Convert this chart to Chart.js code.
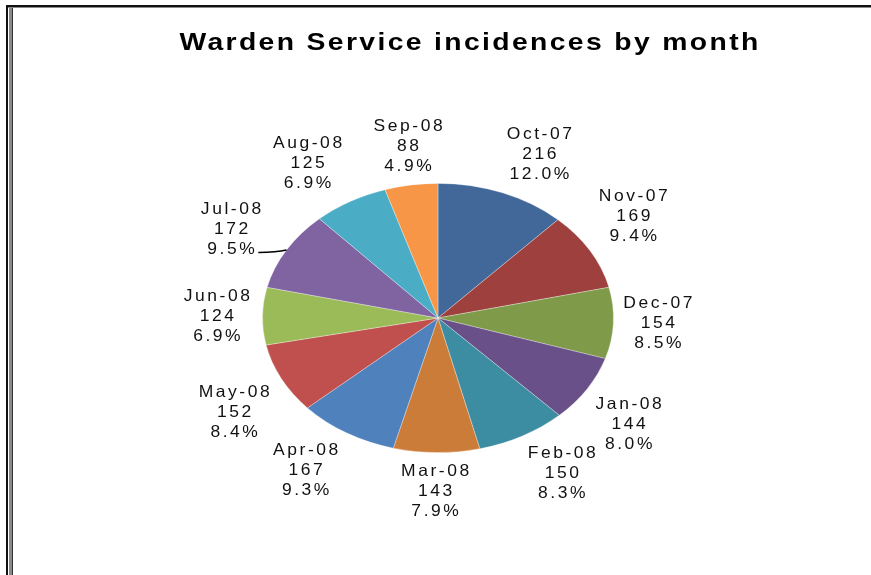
<!DOCTYPE html>
<html>
<head>
<meta charset="utf-8">
<script src="https://cdn.jsdelivr.net/npm/chart.js@4/dist/chart.umd.min.js"></script>
<style>
  html, body { margin: 0; padding: 0; background: #fff; }
  canvas { display: block; }
</style>
</head>
<body>
<canvas id="pie" width="871" height="575"></canvas>
<script>
const chartTitle = 'Warden Service incidences by month';
const months = ['Oct-07', 'Nov-07', 'Dec-07', 'Jan-08', 'Feb-08', 'Mar-08',
                'Apr-08', 'May-08', 'Jun-08', 'Jul-08', 'Aug-08', 'Sep-08'];
const incidents = [216, 169, 154, 144, 150, 143, 167, 152, 124, 172, 125, 88];
const sliceColors = ['#416899', '#9E413E', '#7F9B4A', '#6A5088', '#3D8DA2', '#CC7C39',
                     '#4F81BD', '#C0504D', '#9BBB59', '#8064A2', '#4BACC6', '#F79646'];

const total = incidents.reduce((a, b) => a + b, 0);
const squash = 135 / 176;   // pie is drawn as a flattened ellipse

// text in the original is horizontally stretched
function wideText(ctx, text, x, y, stretch) {
  ctx.save();
  ctx.translate(x, y);
  ctx.scale(stretch, 1);
  ctx.fillText(text, 0, 0);
  ctx.restore();
}

// frame lines of the original image + title
const framePlugin = {
  id: 'frame',
  beforeDraw(chart) {
    const ctx = chart.ctx;
    ctx.save();
    ctx.fillStyle = '#111';
    ctx.fillRect(6, 5, 865, 2);
    ctx.fillRect(6, 5, 2, 570);
    ctx.fillStyle = '#8a8a8a';
    ctx.fillRect(8, 7, 863, 1);
    ctx.fillRect(9, 8, 3, 567);
    ctx.fillStyle = '#333';
    ctx.fillRect(12, 8, 1, 567);

    ctx.fillStyle = '#000';
    ctx.font = 'bold 24px "Liberation Sans", Arial, sans-serif';
    ctx.letterSpacing = '2px';
    ctx.textAlign = 'center';
    ctx.textBaseline = 'alphabetic';
    wideText(ctx, chartTitle, 470, 50, 1.18);
    ctx.restore();
  }
};

// flatten the pie vertically around its centre
const squashPlugin = {
  id: 'squash',
  beforeDatasetsDraw(chart) {
    const arc = chart.getDatasetMeta(0).data[0];
    const ctx = chart.ctx;
    ctx.save();
    ctx.translate(arc.x, arc.y);
    ctx.scale(1, squash);
    ctx.translate(-arc.x, -arc.y);
  },
  afterDatasetsDraw(chart) {
    chart.ctx.restore();
  }
};

// Excel style outside-end labels: name, value, percent
const labelShift = { 9: [-14, 14] };
const labelPlugin = {
  id: 'sliceLabels',
  afterDraw(chart) {
    const ctx = chart.ctx;
    const arcs = chart.getDatasetMeta(0).data;
    const lineH = 20, gap = 9, stretch = 1.06;
    ctx.save();
    ctx.font = '16.5px "Liberation Sans", Arial, sans-serif';
    ctx.letterSpacing = '2.4px';
    ctx.fillStyle = '#111';
    ctx.textAlign = 'center';
    ctx.textBaseline = 'middle';
    arcs.forEach((arc, i) => {
      const a = (arc.startAngle + arc.endAngle) / 2;
      const R = arc.outerRadius;
      const c = Math.cos(a), s = Math.sin(a);
      const lines = [months[i], String(incidents[i]), (incidents[i] / total * 100).toFixed(1) + '%'];
      const w = Math.max(...lines.map(t => ctx.measureText(t).width)) * stretch;
      const h = lines.length * lineH;
      const px = arc.x + (R + gap) * c;
      const py = arc.y + (R * squash + gap) * s;
      const fx = Math.sign(c) * Math.min(1, Math.max(0, (Math.abs(c) - 0.15) / 0.2));
      const fy = Math.sign(s) * Math.min(1, Math.max(0, (Math.abs(s) - 0.15) / 0.2));
      const shift = labelShift[i] || [0, 0];
      const cx = px + fx * (w / 2 + 1) + shift[0];
      const cy = py + fy * (h / 2) + shift[1];
      lines.forEach((t, j) => wideText(ctx, t, cx, cy + (j - 1) * lineH, stretch));
      if (labelShift[i]) {
        const lw = ctx.measureText(lines[2]).width * stretch;
        const ex = arc.x + R * c, ey = arc.y + R * squash * s;
        const sx = cx + lw / 2 + 1, sy = cy + lineH + 3;
        ctx.strokeStyle = '#000';
        ctx.lineWidth = 1.5;
        ctx.beginPath();
        ctx.moveTo(sx, sy);
        ctx.quadraticCurveTo(ex - 10, sy, ex, ey);
        ctx.stroke();
      }
    });
    ctx.restore();
  }
};

new Chart(document.getElementById('pie'), {
  type: 'pie',
  data: {
    labels: months,
    datasets: [{
      data: incidents,
      backgroundColor: sliceColors,
      borderColor: 'rgba(255,255,255,0.35)',
      borderWidth: 1
    }]
  },
  options: {
    responsive: false,
    animation: false,
    events: [],
    devicePixelRatio: 1,
    layout: { padding: { left: 262, right: 257, top: 142, bottom: 81 } },
    plugins: {
      legend: { display: false },
      tooltip: { enabled: false },
      title: { display: false }
    }
  },
  plugins: [framePlugin, squashPlugin, labelPlugin]
});
</script>
</body>
</html>
